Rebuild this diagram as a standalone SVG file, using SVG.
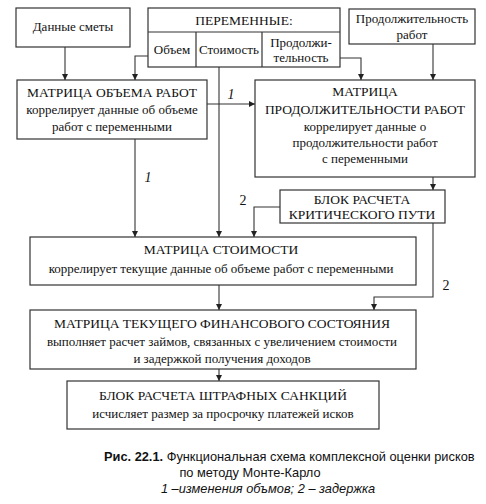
<svg xmlns="http://www.w3.org/2000/svg" width="486" height="504" viewBox="0 0 486 504">
<style>
.b{fill:#fff;stroke:#333;stroke-width:1.2}
.t{font-family:"Liberation Serif","DejaVu Serif","Times New Roman",serif;font-size:13.5px;fill:#111;text-anchor:middle}
.s{font-family:"Liberation Serif","DejaVu Serif","Times New Roman",serif;font-size:13px;fill:#111;text-anchor:middle}
.l{font-family:"Liberation Serif","DejaVu Serif","Times New Roman",serif;font-size:14px;fill:#111;text-anchor:middle}
.i{font-style:italic}
.c{fill:none;stroke:#333;stroke-width:1.1;marker-end:url(#a)}
.cap{font-family:"Liberation Sans",Arial,sans-serif;font-size:12.8px;fill:#111}
</style>
<defs>
<marker id="a" viewBox="0 0 8 8" refX="8" refY="4" markerWidth="6" markerHeight="6" markerUnits="userSpaceOnUse" orient="auto">
<path d="M0,0 L8,4 L0,8 z" fill="#222"/>
</marker>
</defs>
<rect width="486" height="504" fill="#fff"/>
<g id="connectors">
<path class="c" d="M65,47 V80"/>
<path class="c" d="M148,56 H135 V80"/>
<path class="c" d="M219,67 V237"/>
<path class="c" d="M207,104 H255"/>
<path class="c" d="M340,58 H361 V80"/>
<path class="c" d="M433,44 V80"/>
<path class="c" d="M135,139 V237"/>
<path class="c" d="M433,177 V190"/>
<path class="c" d="M280,207 H254 V237"/>
<path class="c" d="M433,223 V297 H374 V310"/>
<path class="c" d="M219,285 V310"/>
<path class="c" d="M219,369 V381"/>
<text class="l i" x="231" y="99">1</text>
<text class="l i" x="148" y="182">1</text>
<text class="l" x="243" y="205">2</text>
<text class="l" x="446" y="290">2</text>
</g>
<g id="smeta">
<rect class="b" x="16" y="8" width="114" height="39"/>
<text class="s" x="73" y="31">Данные сметы</text>
</g>
<g id="peremennye">
<rect class="b" x="148" y="8" width="192" height="59"/>
<line x1="148" y1="32" x2="340" y2="32" stroke="#333" stroke-width="1.2"/>
<line x1="196" y1="32" x2="196" y2="67" stroke="#333" stroke-width="1.2"/>
<line x1="262" y1="32" x2="262" y2="67" stroke="#333" stroke-width="1.2"/>
<text class="t" x="244" y="25">ПЕРЕМЕННЫЕ:</text>
<text class="s" x="172" y="54">Объем</text>
<text class="s" x="229" y="54">Стоимость</text>
<text class="s" x="301" y="47">Продолжи-</text>
<text class="s" x="301" y="62">тельность</text>
</g>
<g id="prod-rabot">
<rect class="b" x="349" y="9" width="126" height="35"/>
<text class="s" x="412" y="23">Продолжительность</text>
<text class="s" x="412" y="39">работ</text>
</g>
<g id="m-obema">
<rect class="b" x="17" y="80" width="190" height="59"/>
<text class="t" x="112" y="97">МАТРИЦА ОБЪЕМА РАБОТ</text>
<text class="s" x="112" y="114">коррелирует данные об объеме</text>
<text class="s" x="112" y="131">работ с переменными</text>
</g>
<g id="m-prod">
<rect class="b" x="255" y="80" width="220" height="97"/>
<text class="t" x="365" y="96">МАТРИЦА</text>
<text class="t" x="365" y="114">ПРОДОЛЖИТЕЛЬНОСТИ РАБОТ</text>
<text class="s" x="365" y="131">коррелирует данные о</text>
<text class="s" x="365" y="147">продолжительности работ</text>
<text class="s" x="365" y="163">с переменными</text>
</g>
<g id="blok-kp">
<rect class="b" x="280" y="190" width="165" height="33"/>
<text class="t" x="362" y="204">БЛОК РАСЧЕТА</text>
<text class="t" x="362" y="219">КРИТИЧЕСКОГО ПУТИ</text>
</g>
<g id="m-stoim">
<rect class="b" x="30" y="237" width="386" height="48"/>
<text class="t" x="221" y="254">МАТРИЦА СТОИМОСТИ</text>
<text class="s" x="221" y="273">коррелирует текущие данные об объеме работ с переменными</text>
</g>
<g id="m-fin">
<rect class="b" x="30" y="310" width="386" height="59"/>
<text class="t" x="222" y="328">МАТРИЦА ТЕКУЩЕГО ФИНАНСОВОГО СОСТОЯНИЯ</text>
<text class="s" x="222" y="346">выполняет расчет займов, связанных с увеличением стоимости</text>
<text class="s" x="222" y="363">и задержкой получения доходов</text>
</g>
<g id="shtraf">
<rect class="b" x="67" y="381" width="312" height="48"/>
<text class="t" x="223" y="400">БЛОК РАСЧЕТА ШТРАФНЫХ САНКЦИЙ</text>
<text class="s" x="223" y="418">исчисляет размер за просрочку платежей исков</text>
</g>
<g id="caption">
<text class="cap" x="104" y="461"><tspan font-weight="bold">Рис. 22.1.</tspan> Функциональная схема комплексной оценки рисков</text>
<text class="cap" x="250" y="477" text-anchor="middle">по методу Монте-Карло</text>
<text class="cap" x="268" y="493" text-anchor="middle" font-style="italic" font-size="10.5">1 –изменения объмов; 2 – задержка</text>
</g>
</svg>
